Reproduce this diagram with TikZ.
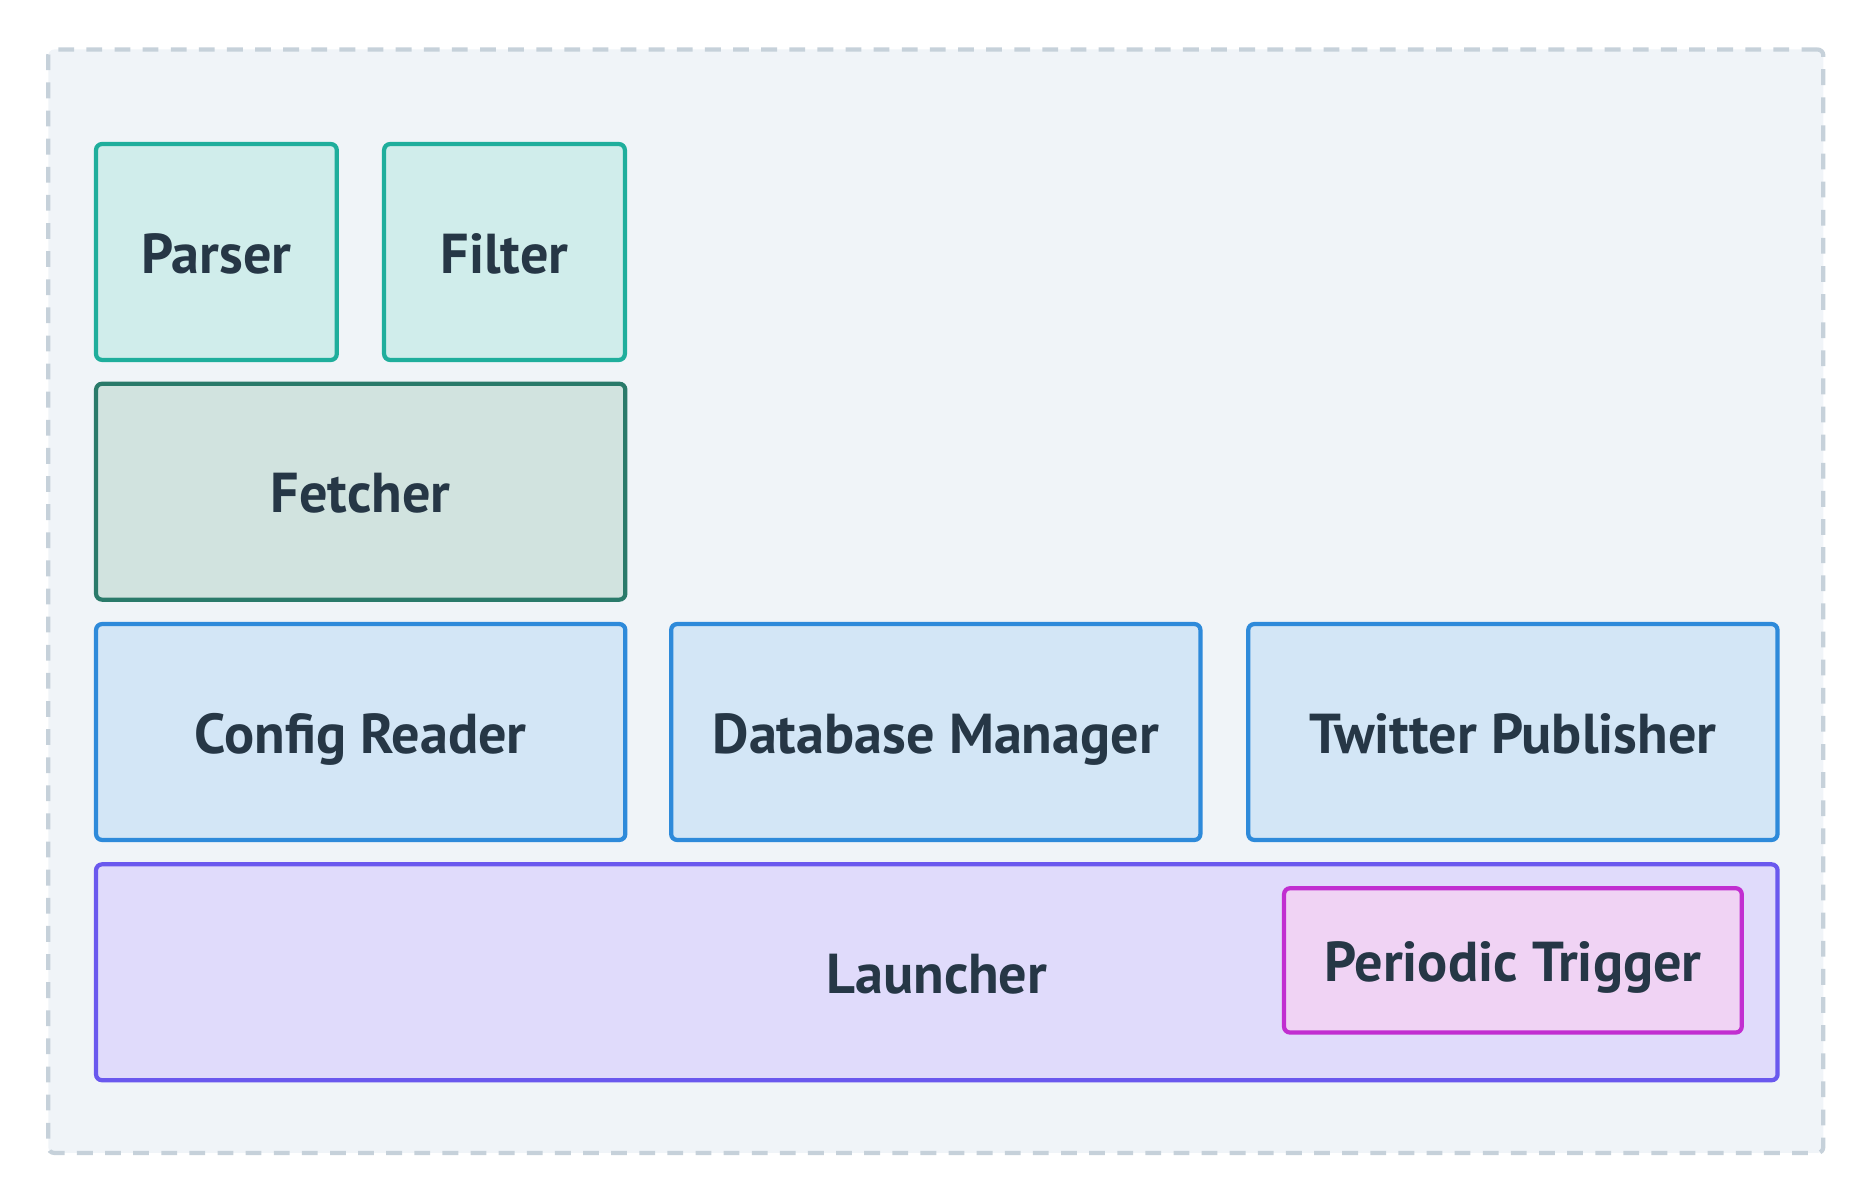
\documentclass[tikz,border=0pt]{standalone}
\usepackage{fontspec}
\setmainfont{PT Sans}
\usetikzlibrary{positioning}
\definecolor{frame-fill}{HTML}{F0F4F8}
\definecolor{frame-line}{HTML}{C6D1DA}
\definecolor{teal-fill}{HTML}{D0EDEB}
\definecolor{teal-line}{HTML}{1FAE9C}
\definecolor{green-fill}{HTML}{D1E3DF}
\definecolor{green-line}{HTML}{2A7A6A}
\definecolor{blue-fill}{HTML}{D3E6F6}
\definecolor{blue-line}{HTML}{2E8ADA}
\definecolor{violet-fill}{HTML}{E0DBFB}
\definecolor{violet-line}{HTML}{6A58EE}
\definecolor{pink-fill}{HTML}{F0D3F4}
\definecolor{pink-line}{HTML}{C12ED0}
\definecolor{label-text}{HTML}{263746}
\newlength{\basisa}
\setlength{\basisa}{1cm}
\tikzset{
    block/.style={minimum height=2.159\basisa, draw, line width=1.2pt, rounded corners=0.06\basisa,
        text=label-text, text height=12pt, text depth=0pt, font=\fontsize{16}{19}\selectfont\bfseries},
    small block/.style={block, minimum width=2.408\basisa},
    wide block/.style={block, minimum width=5.293\basisa},
}

\begin{document}
\begin{tikzpicture}
    \useasboundingbox (0,0) rectangle (18.72\basisa,12\basisa);

    \draw (9.358\basisa,5.988\basisa) 
		node[minimum height=11.035\basisa,minimum width=17.751\basisa,fill=frame-fill,draw=frame-line,
			line width=1.2pt,dash pattern=on 4.5pt off 3.5pt,rounded corners=0.06\basisa] 
			(Frame) {};

    \draw (2.164\basisa,9.480\basisa) 
		node[small block,fill=teal-fill,draw=teal-line] 
			(Parser) {Parser};
    \draw (5.045\basisa,9.480\basisa) 
		node[small block,fill=teal-fill,draw=teal-line] 
			(Filter) {Filter};

    \draw (3.607\basisa,7.083\basisa) 
		node[wide block,fill=green-fill,draw=green-line] 
			(Fetcher) {Fetcher};

    \draw (3.607\basisa,4.680\basisa) 
		node[wide block,fill=blue-fill,draw=blue-line] 
			(ConfigReader) {Config Reader};
    \draw (9.358\basisa,4.680\basisa) 
		node[wide block,fill=blue-fill,draw=blue-line] 
			(DatabaseManager) {Database Manager};
    \draw (15.129\basisa,4.680\basisa) 
		node[wide block,fill=blue-fill,draw=blue-line] 
			(TwitterPublisher) {Twitter Publisher};

    \draw (9.368\basisa,2.277\basisa) 
		node[block,minimum width=16.816\basisa,fill=violet-fill,draw=violet-line] 
			(Launcher) {Launcher};
    \draw (15.129\basisa,2.396\basisa) 
		node[block,minimum height=1.443\basisa,minimum width=4.577\basisa,fill=pink-fill,draw=pink-line] 
			(PeriodicTrigger) {Periodic Trigger};
\end{tikzpicture}
\end{document}
